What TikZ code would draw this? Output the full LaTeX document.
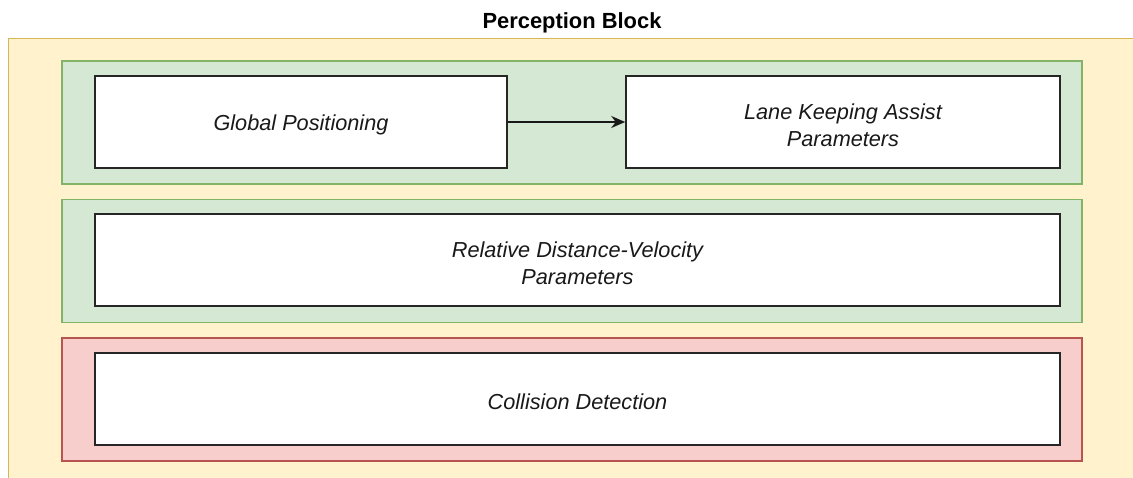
\documentclass[tikz,border=0pt]{standalone}
\usepackage{fontspec}
\setmainfont{Liberation Sans}
\usetikzlibrary{arrows.meta}
\definecolor{yfill}{HTML}{FFF2CC}
\definecolor{ydraw}{HTML}{D6B656}
\definecolor{gfill}{HTML}{D5E8D4}
\definecolor{gdraw}{HTML}{82B366}
\definecolor{rfill}{HTML}{F8CECC}
\definecolor{rdraw}{HTML}{B85450}
\tikzset{
  panel/.style={draw=#1draw, fill=#1fill, line width=1.5pt, minimum width=1020pt, minimum height=123pt, inner sep=0pt},
  unit/.style={draw=black!85, fill=white, line width=1.6pt, inner sep=0pt, minimum height=92pt},
  utext/.style={align=center, font=\fontsize{21.7}{27}\selectfont\itshape, text=black!90, yshift=-3pt, inner sep=0pt},
  link/.style={-{Stealth[length=14pt,width=12pt]}, line width=1.5pt, draw=black!90}
}
\begin{document}
\begin{tikzpicture}[x=1pt,y=-1pt]
\useasboundingbox (0,0) rectangle (1133,478);
\clip (0,0) rectangle (1133,478);
% outer block and its title
\path[fill=yfill, draw=ydraw, line width=1.5pt] (8.5,38.5) rectangle (1150,495);
\node[font=\fontsize{21.9}{26}\selectfont\bfseries] (title) at (572,23) {Perception Block};
% three grouping panels
\node[panel=g] (p1) at (572,122.5) {};
\node[panel=g] (p2) at (572,261) {};
\node[panel=r] (p3) at (572,399.5) {};
% function units
\node[unit, minimum width=412pt, label={[utext]center:Global Positioning}] (gp) at (301,122) {};
\node[unit, minimum width=434pt, label={[utext]center:{Lane Keeping Assist\\Parameters}}] (lka) at (843,122) {};
\node[unit, minimum width=965pt, label={[utext]center:{Relative Distance-Velocity\\Parameters}}] (rdv) at (577.5,260) {};
\node[unit, minimum width=965pt, label={[utext]center:Collision Detection}] (cd) at (577.5,399) {};
\draw[link] (gp) -- (lka);
\end{tikzpicture}
\end{document}
